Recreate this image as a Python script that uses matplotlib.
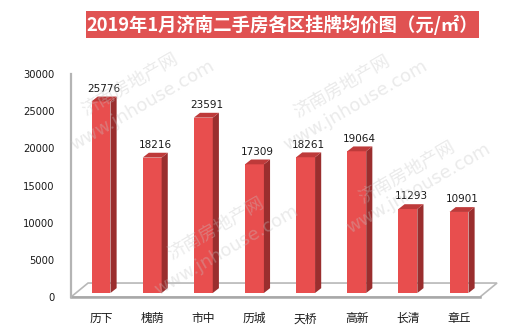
import matplotlib.pyplot as plt
import matplotlib.patches as mpatches
from matplotlib.patches import Polygon

plt.rcParams['font.family'] = ['Noto Sans CJK SC', 'DejaVu Sans']

# Average listing price per district (yuan / m2)
districts = ['历下', '槐荫', '市中', '历城', '天桥', '高新', '长清', '章丘']
prices = [25776, 18216, 23591, 17309, 18261, 19064, 11293, 10901]
yticks = [0, 5000, 10000, 15000, 20000, 25000, 30000]

front_color = '#E84E4E'
side_color = '#9A2E2E'
top_color = '#BE3A3A'

fig = plt.figure(figsize=(5.1, 3.3), dpi=100)
ax = fig.add_axes([71 / 510, 33 / 330, (480 - 71) / 510, (297 - 74) / 330])
ax.set_xlim(-0.587, 7.41)
ax.set_ylim(0, 30000)

# floor of the pseudo-3D chart
x0, x1 = -0.587, 7.41
fdx, fdy = 0.333, 1880
floor = Polygon([(x0, 0), (x1, 0), (x1 + fdx, fdy), (x0 + fdx, fdy)], closed=True,
                facecolor='white', edgecolor='#b8b8b8', lw=1.2, clip_on=False, zorder=1)
ax.add_patch(floor)
ax.plot([x0, x1], [0, 0], color='#a8a8a8', lw=1.8, clip_on=False, zorder=1.5)

# bars: front face plus a side and top face for depth
width = 0.37
lift = 540
dx, dy = 0.12, 650
for i, v in enumerate(prices):
    left = i - width / 2
    right = i + width / 2
    top = v + lift
    ax.bar(i, v, width=width, bottom=lift, color=front_color, zorder=3)
    ax.add_patch(Polygon([(right, lift), (right + dx, lift + dy), (right + dx, top + dy), (right, top)],
                         closed=True, facecolor=side_color, edgecolor='none', zorder=3))
    ax.add_patch(Polygon([(left, top), (right, top), (right + dx, top + dy), (left + dx, top + dy)],
                         closed=True, facecolor=top_color, edgecolor='none', zorder=3))
    ax.annotate(str(v), (i + dx / 2, top + dy), xytext=(0, 2), textcoords='offset points',
                ha='center', va='bottom', fontsize=7.5, color='#1a1a1a',
                family='DejaVu Sans', zorder=4)

for s in ['top', 'right', 'bottom']:
    ax.spines[s].set_visible(False)
ax.spines['left'].set_color('#b4b4b4')
ax.spines['left'].set_linewidth(1.6)

ax.set_yticks(yticks)
ax.set_yticklabels([str(t) for t in yticks], fontsize=7.2, family='DejaVu Sans', color='#1a1a1a')
ax.tick_params(axis='y', length=0, pad=12)
ax.set_xticks(range(len(districts)))
ax.set_xticklabels(districts, fontsize=8.5, color='#1a1a1a')
ax.tick_params(axis='x', length=0, pad=11)

# title banner
fig.patches.append(mpatches.Rectangle((86 / 510, 1 - 38 / 330), (479 - 86) / 510, 27 / 330,
                                      transform=fig.transFigure, facecolor='#E05252',
                                      edgecolor='none', zorder=0))
fig.text(282.5 / 510, 1 - 24.5 / 330, '2019年1月济南二手房各区挂牌均价图（元/㎡）',
         ha='center', va='center', color='white', fontsize=13.2, fontweight='bold')

# site watermark
marks = [((130, 84), (142, 105)), ((342, 86), (355, 105)),
         ((216, 228), (226, 250)), ((407, 172), (418, 188))]
for (cx1, cy1), (cx2, cy2) in marks:
    fig.text(cx1 / 510, 1 - cy1 / 330, '济南房地产网', rotation=30, ha='center', va='center',
             fontsize=13, color='#c4c4c4', alpha=0.35, rotation_mode='anchor', zorder=10)
    fig.text(cx2 / 510, 1 - cy2 / 330, 'www.jnhouse.com', rotation=30, ha='center', va='center',
             fontsize=13, color='#c4c4c4', alpha=0.35, family='DejaVu Sans',
             rotation_mode='anchor', zorder=10)

fig.savefig('out.png', dpi=100)
